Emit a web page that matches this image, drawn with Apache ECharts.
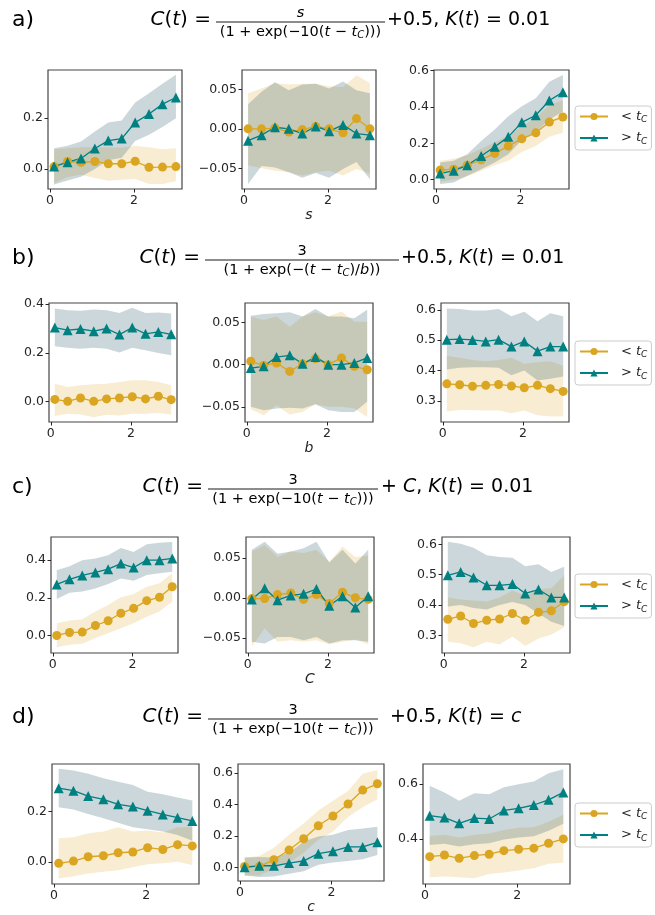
<!DOCTYPE html>
<html>
<head>
<meta charset="utf-8">
<script src="https://cdn.jsdelivr.net/npm/echarts@6/dist/echarts.min.js"></script>
<style>
  html, body { margin: 0; padding: 0; background: #ffffff; }
  #chart { width: 655px; height: 915px; }
</style>
</head>
<body>
<div id="chart"></div>
<script>
// Shared x positions of the sweep (parameter value on each panel's x axis)
const X = [0.1, 0.42, 0.74, 1.07, 1.39, 1.71, 2.03, 2.36, 2.68, 3.0];
const xTicks = [0, 2];

// ---- row a ----
const a1LtMean = [0.010, 0.030, 0.027, 0.030, 0.021, 0.021, 0.031, 0.007, 0.008, 0.010];
const a1LtLow  = [-0.055, -0.031, -0.022, -0.035, -0.046, -0.042, -0.039, -0.058, -0.058, -0.048];
const a1LtHigh = [0.078, 0.082, 0.086, 0.086, 0.086, 0.085, 0.092, 0.086, 0.078, 0.082];
const a1GtMean = [0.010, 0.027, 0.042, 0.081, 0.112, 0.120, 0.183, 0.216, 0.255, 0.281];
const a1GtLow  = [-0.060, -0.045, -0.030, 0.000, 0.035, 0.045, 0.110, 0.135, 0.165, 0.200];
const a1GtHigh = [0.082, 0.092, 0.108, 0.148, 0.183, 0.191, 0.261, 0.298, 0.335, 0.370];
const a1Ticks = [0.0, 0.2];

const a2LtMean = [0.000, 0.000, 0.001, -0.004, -0.001, 0.003, 0.000, -0.005, 0.013, 0.000];
const a2LtLow  = [-0.046, -0.050, -0.053, -0.055, -0.059, -0.055, -0.053, -0.059, -0.051, -0.057];
const a2LtHigh = [0.045, 0.051, 0.058, 0.056, 0.057, 0.057, 0.054, 0.053, 0.068, 0.058];
const a2GtMean = [-0.015, -0.008, 0.002, 0.000, -0.006, 0.003, -0.003, 0.005, -0.006, -0.008];
const a2GtLow  = [-0.070, -0.047, -0.049, -0.055, -0.062, -0.056, -0.062, -0.051, -0.042, -0.064];
const a2GtHigh = [0.031, 0.047, 0.059, 0.049, 0.056, 0.057, 0.051, 0.060, 0.049, 0.045];
const a2Ticks = [-0.05, 0.0, 0.05];

const a3LtMean = [0.053, 0.058, 0.080, 0.109, 0.145, 0.185, 0.225, 0.258, 0.318, 0.345];
const a3LtLow  = [-0.011, 0.000, 0.018, 0.049, 0.080, 0.104, 0.153, 0.185, 0.236, 0.258];
const a3LtHigh = [0.104, 0.116, 0.135, 0.171, 0.207, 0.244, 0.295, 0.340, 0.413, 0.436];
const a3GtMean = [0.035, 0.049, 0.080, 0.131, 0.182, 0.236, 0.316, 0.355, 0.436, 0.482];
const a3GtLow  = [-0.024, -0.015, 0.022, 0.058, 0.095, 0.140, 0.218, 0.262, 0.331, 0.376];
const a3GtHigh = [0.095, 0.104, 0.140, 0.213, 0.276, 0.349, 0.404, 0.449, 0.540, 0.576];
const a3Ticks = [0.0, 0.2, 0.4, 0.6];

// ---- row b ----
const b1LtMean = [0.008, 0.000, 0.014, 0.000, 0.010, 0.014, 0.019, 0.010, 0.021, 0.007];
const b1LtLow  = [-0.060, -0.051, -0.054, -0.065, -0.055, -0.058, -0.051, -0.051, -0.048, -0.054];
const b1LtHigh = [0.073, 0.059, 0.066, 0.070, 0.073, 0.080, 0.087, 0.087, 0.080, 0.066];
const b1GtMean = [0.304, 0.293, 0.298, 0.289, 0.300, 0.275, 0.304, 0.278, 0.286, 0.276];
const b1GtLow  = [0.227, 0.221, 0.217, 0.221, 0.217, 0.201, 0.221, 0.210, 0.199, 0.190];
const b1GtHigh = [0.382, 0.375, 0.373, 0.378, 0.375, 0.364, 0.385, 0.364, 0.366, 0.362];
const b1Ticks = [0.0, 0.2, 0.4];

const b2LtMean = [0.004, -0.001, 0.002, -0.008, 0.001, 0.007, 0.000, 0.008, -0.002, -0.006];
const b2LtLow  = [-0.053, -0.060, -0.048, -0.059, -0.056, -0.047, -0.050, -0.050, -0.052, -0.062];
const b2LtHigh = [0.057, 0.053, 0.057, 0.045, 0.057, 0.062, 0.057, 0.063, 0.051, 0.051];
const b2GtMean = [-0.004, -0.002, 0.009, 0.011, 0.001, 0.009, 0.000, 0.000, 0.002, 0.008];
const b2GtLow  = [-0.050, -0.054, -0.052, -0.051, -0.052, -0.047, -0.054, -0.056, -0.056, -0.044];
const b2GtHigh = [0.058, 0.060, 0.061, 0.062, 0.057, 0.066, 0.057, 0.057, 0.055, 0.065];
const b2Ticks = [-0.05, 0.0, 0.05];

const b3LtMean = [0.356, 0.353, 0.348, 0.351, 0.354, 0.349, 0.343, 0.351, 0.340, 0.331];
const b3LtLow  = [0.265, 0.270, 0.270, 0.268, 0.268, 0.259, 0.268, 0.252, 0.248, 0.248];
const b3LtHigh = [0.449, 0.442, 0.435, 0.431, 0.435, 0.442, 0.422, 0.427, 0.431, 0.416];
const b3GtMean = [0.502, 0.504, 0.501, 0.496, 0.502, 0.479, 0.496, 0.464, 0.479, 0.479];
const b3GtLow  = [0.403, 0.409, 0.411, 0.411, 0.409, 0.384, 0.400, 0.367, 0.373, 0.380];
const b3GtHigh = [0.605, 0.603, 0.598, 0.598, 0.603, 0.579, 0.594, 0.563, 0.589, 0.579];
const b3Ticks = [0.3, 0.4, 0.5, 0.6];

// ---- row c ----
const c1LtMean = [0.000, 0.016, 0.018, 0.053, 0.078, 0.118, 0.144, 0.185, 0.203, 0.259];
const c1LtLow  = [-0.062, -0.049, -0.044, -0.014, 0.012, 0.039, 0.065, 0.100, 0.127, 0.180];
const c1LtHigh = [0.065, 0.079, 0.086, 0.127, 0.162, 0.203, 0.220, 0.259, 0.277, 0.330];
const c1GtMean = [0.271, 0.298, 0.319, 0.335, 0.352, 0.382, 0.361, 0.400, 0.400, 0.409];
const c1GtLow  = [0.194, 0.227, 0.233, 0.250, 0.273, 0.303, 0.291, 0.321, 0.330, 0.338];
const c1GtHigh = [0.347, 0.368, 0.400, 0.409, 0.426, 0.465, 0.444, 0.485, 0.492, 0.497];
const c1Ticks = [0.0, 0.2, 0.4];

const c2LtMean = [-0.001, -0.001, 0.004, 0.006, -0.002, 0.004, -0.007, 0.007, 0.000, -0.002];
const c2LtLow  = [-0.061, -0.038, -0.055, -0.053, -0.055, -0.053, -0.058, -0.055, -0.052, -0.058];
const c2LtHigh = [0.058, 0.066, 0.051, 0.058, 0.056, 0.060, 0.045, 0.064, 0.051, 0.053];
const c2GtMean = [-0.002, 0.012, -0.003, 0.003, 0.005, 0.011, -0.010, 0.002, -0.012, 0.002];
const c2GtLow  = [-0.055, -0.057, -0.049, -0.049, -0.053, -0.049, -0.057, -0.053, -0.053, -0.055];
const c2GtHigh = [0.060, 0.070, 0.055, 0.058, 0.062, 0.070, 0.044, 0.060, 0.043, 0.060];
const c2Ticks = [-0.05, 0.0, 0.05];

const c3LtMean = [0.353, 0.364, 0.339, 0.350, 0.354, 0.372, 0.350, 0.376, 0.381, 0.411];
const c3LtLow  = [0.279, 0.274, 0.261, 0.279, 0.270, 0.296, 0.265, 0.290, 0.303, 0.326];
const c3LtHigh = [0.425, 0.418, 0.415, 0.412, 0.425, 0.448, 0.430, 0.452, 0.455, 0.497];
const c3GtMean = [0.498, 0.509, 0.491, 0.465, 0.465, 0.469, 0.438, 0.451, 0.425, 0.425];
const c3GtLow  = [0.395, 0.400, 0.390, 0.385, 0.400, 0.410, 0.400, 0.372, 0.345, 0.331];
const c3GtHigh = [0.608, 0.602, 0.589, 0.564, 0.558, 0.556, 0.528, 0.534, 0.509, 0.526];
const c3Ticks = [0.3, 0.4, 0.5, 0.6];

// ---- row d ----
const d1LtMean = [-0.005, 0.004, 0.021, 0.025, 0.037, 0.040, 0.057, 0.050, 0.069, 0.064];
const d1LtLow  = [-0.065, -0.056, -0.045, -0.038, -0.032, -0.021, -0.009, -0.005, 0.001, -0.012];
const d1LtHigh = [0.094, 0.098, 0.114, 0.121, 0.138, 0.121, 0.125, 0.117, 0.138, 0.138];
const d1GtMean = [0.293, 0.283, 0.262, 0.249, 0.229, 0.220, 0.204, 0.189, 0.176, 0.163];
const d1GtLow  = [0.217, 0.209, 0.191, 0.174, 0.156, 0.138, 0.130, 0.121, 0.107, 0.085];
const d1GtHigh = [0.370, 0.363, 0.350, 0.332, 0.319, 0.306, 0.279, 0.269, 0.256, 0.244];
const d1Ticks = [0.0, 0.2];

const d2LtMean = [0.006, 0.006, 0.048, 0.110, 0.182, 0.265, 0.327, 0.403, 0.492, 0.532];
const d2LtLow  = [-0.052, -0.052, -0.010, 0.031, 0.093, 0.176, 0.228, 0.321, 0.383, 0.434];
const d2LtHigh = [0.062, 0.072, 0.124, 0.207, 0.279, 0.362, 0.424, 0.486, 0.596, 0.620];
const d2GtMean = [0.000, 0.010, 0.010, 0.027, 0.041, 0.087, 0.103, 0.130, 0.130, 0.159];
const d2GtLow  = [-0.052, -0.062, -0.058, -0.041, -0.025, 0.017, 0.031, 0.041, 0.052, 0.079];
const d2GtHigh = [0.062, 0.066, 0.062, 0.093, 0.165, 0.196, 0.207, 0.238, 0.248, 0.259];
const d2Ticks = [0.0, 0.2, 0.4, 0.6];

const d3LtMean = [0.335, 0.341, 0.329, 0.339, 0.344, 0.357, 0.362, 0.366, 0.384, 0.400];
const d3LtLow  = [0.260, 0.262, 0.260, 0.256, 0.272, 0.277, 0.284, 0.293, 0.309, 0.313];
const d3LtHigh = [0.411, 0.415, 0.405, 0.415, 0.420, 0.433, 0.441, 0.443, 0.463, 0.488];
const d3GtMean = [0.485, 0.478, 0.457, 0.476, 0.473, 0.504, 0.512, 0.524, 0.543, 0.570];
const d3GtLow  = [0.378, 0.382, 0.372, 0.380, 0.384, 0.398, 0.405, 0.410, 0.430, 0.455];
const d3GtHigh = [0.594, 0.570, 0.540, 0.567, 0.563, 0.589, 0.600, 0.610, 0.640, 0.655];
const d3Ticks = [0.4, 0.6];

const xNames = ['s', 'b', 'C', 'c'];

// Panel layout: [left, top, width, height], y limits, label decimals
const panels = [
  { box: [48, 70, 134, 119],  y: [-0.078, 0.389], dec: 1, ticks: a1Ticks, s: [a1LtMean, a1LtLow, a1LtHigh, a1GtMean, a1GtLow, a1GtHigh] },
  { box: [242, 70, 134, 119], y: [-0.0762, 0.0745], dec: 2, ticks: a2Ticks, s: [a2LtMean, a2LtLow, a2LtHigh, a2GtMean, a2GtLow, a2GtHigh], xName: 0 },
  { box: [434, 70, 135, 119], y: [-0.051, 0.604], dec: 1, ticks: a3Ticks, s: [a3LtMean, a3LtLow, a3LtHigh, a3GtMean, a3GtLow, a3GtHigh] },
  { box: [49, 303, 128, 119],  y: [-0.085, 0.405], dec: 1, ticks: b1Ticks, s: [b1LtMean, b1LtLow, b1LtHigh, b1GtMean, b1GtLow, b1GtHigh] },
  { box: [245, 303, 128, 119], y: [-0.068, 0.0731], dec: 2, ticks: b2Ticks, s: [b2LtMean, b2LtLow, b2LtHigh, b2GtMean, b2GtLow, b2GtHigh], xName: 1 },
  { box: [441, 303, 128, 119], y: [0.230, 0.623], dec: 1, ticks: b3Ticks, s: [b3LtMean, b3LtLow, b3LtHigh, b3GtMean, b3GtLow, b3GtHigh] },
  { box: [51, 537, 127, 116],  y: [-0.093, 0.523], dec: 1, ticks: c1Ticks, s: [c1LtMean, c1LtLow, c1LtHigh, c1GtMean, c1GtLow, c1GtHigh] },
  { box: [246, 537, 128, 116], y: [-0.069, 0.076], dec: 2, ticks: c2Ticks, s: [c2LtMean, c2LtLow, c2LtHigh, c2GtMean, c2GtLow, c2GtHigh], xName: 2 },
  { box: [442, 537, 128, 116], y: [0.242, 0.624], dec: 1, ticks: c3Ticks, s: [c3LtMean, c3LtLow, c3LtHigh, c3GtMean, c3GtLow, c3GtHigh] },
  { box: [52, 764, 147, 120],  y: [-0.087, 0.389], dec: 1, ticks: d1Ticks, s: [d1LtMean, d1LtLow, d1LtHigh, d1GtMean, d1GtLow, d1GtHigh] },
  { box: [238, 764, 146, 120], y: [-0.087, 0.658], dec: 1, ticks: d2Ticks, s: [d2LtMean, d2LtLow, d2LtHigh, d2GtMean, d2GtLow, d2GtHigh], xName: 3 },
  { box: [423, 764, 147, 120], y: [0.235, 0.674], dec: 1, ticks: d3Ticks, s: [d3LtMean, d3LtLow, d3LtHigh, d3GtMean, d3GtLow, d3GtHigh] }
];

const FONT = 'DejaVu Sans';
const ORANGE = '#DAA520';
const TEAL = '#008080';
const ORANGE_BAND = 'rgba(218,165,32,0.2)';
const TEAL_BAND = 'rgba(47,97,107,0.25)';
const INK = '#262626';

function fmt(v, dec) {
  const s = Math.abs(v).toFixed(dec);
  return (v < -1e-9 ? '\u2212' : '') + s;
}

function bandSeries(i, lo, hi, color) {
  return {
    type: 'custom', xAxisIndex: i, yAxisIndex: i, silent: true, z: 1,
    data: X.map((x, k) => [x, lo[k], hi[k]]),
    encode: { x: 0, y: [1, 2] },
    renderItem: function (params, api) {
      if (params.dataIndex !== 0) return null;
      const top = [], bot = [];
      for (let k = 0; k < X.length; k++) {
        top.push(api.coord([X[k], hi[k]]));
        bot.push(api.coord([X[k], lo[k]]));
      }
      return { type: 'polygon', shape: { points: top.concat(bot.reverse()) }, style: { fill: color } };
    }
  };
}

function lineSeries(i, name, vals, color, symbol, size) {
  return {
    type: 'line', name: name, xAxisIndex: i, yAxisIndex: i, z: 3,
    data: X.map((x, k) => [x, vals[k]]),
    symbol: symbol, symbolSize: size, showSymbol: true,
    lineStyle: { color: color, width: 1.3 },
    itemStyle: { color: color, borderWidth: 0 },
    emphasis: { disabled: true }, animation: false
  };
}

const grids = [], xAxes = [], yAxes = [], series = [];
panels.forEach((p, i) => {
  grids.push({ left: p.box[0], top: p.box[1], width: p.box[2], height: p.box[3],
    show: true, borderColor: '#444', borderWidth: 1.2, backgroundColor: 'transparent', containLabel: false });
  xAxes.push({
    type: 'value', gridIndex: i, min: -0.045, max: 3.145, position: 'bottom',
    axisLine: { show: false, onZero: false }, splitLine: { show: false },
    axisTick: { show: true, length: 3.5, lineStyle: { color: INK, width: 1 }, customValues: xTicks },
    axisLabel: { fontFamily: FONT, fontSize: 12.5, color: INK, margin: 5, customValues: xTicks, formatter: v => String(v) },
    name: p.xName !== undefined ? xNames[p.xName] : '',
    nameLocation: 'middle', nameGap: 19,
    nameTextStyle: { fontFamily: FONT, fontSize: 14, fontStyle: 'italic', color: INK }
  });
  yAxes.push({
    type: 'value', gridIndex: i, min: p.y[0], max: p.y[1], position: 'left',
    axisLine: { show: false, onZero: false }, splitLine: { show: false },
    axisTick: { show: true, length: 3.5, lineStyle: { color: INK, width: 1 }, customValues: p.ticks },
    axisLabel: { fontFamily: FONT, fontSize: 12.5, color: INK, margin: 5, customValues: p.ticks, formatter: v => fmt(v, p.dec) }
  });
  const [ltM, ltL, ltH, gtM, gtL, gtH] = p.s;
  series.push(bandSeries(i, ltL, ltH, ORANGE_BAND));
  series.push(bandSeries(i, gtL, gtH, TEAL_BAND));
  series.push(lineSeries(i, 'lt', ltM, ORANGE, 'circle', 9));
  series.push(lineSeries(i, 'gt', gtM, TEAL, 'triangle', 10));
});

// Legends to the right of each row
const legendTops = [106, 341, 574, 803];
const legends = legendTops.map(t => ({
  data: ['lt', 'gt'], orient: 'vertical', left: 575, top: t,
  itemWidth: 28, itemHeight: 9, itemGap: 7,
  padding: [4, 4, 4, 4], borderColor: '#cccccc', borderWidth: 1, borderRadius: 3,
  backgroundColor: '#ffffff', selectedMode: false,
  formatter: n => (n === 'lt' ? '{g|<} {i|t}{s|C}' : '{g|>} {i|t}{s|C}'),
  textStyle: {
    fontFamily: FONT, fontSize: 13, color: INK,
    rich: {
      g: { fontFamily: FONT, fontSize: 13, color: INK, padding: [0, 0, 0, 8] },
      i: { fontFamily: FONT, fontSize: 13, fontStyle: 'italic', color: INK },
      s: { fontFamily: FONT, fontSize: 9, fontStyle: 'italic', color: INK, padding: [7, 0, 0, 0] }
    }
  }
}));

// Row headings: panel letter and the formula with a stacked fraction
const richMath = (size) => ({
  i: { fontFamily: FONT, fontSize: size, fontStyle: 'italic', color: '#000' },
  s: { fontFamily: FONT, fontSize: Math.round(size * 0.7), fontStyle: 'italic', color: '#000', padding: [Math.round(size * 0.5), 0, 0, 0] }
});
function txt(x, y, text, size, align) {
  return { type: 'text', x: x, y: y, silent: true,
    style: { text: text, fontFamily: FONT, fontSize: size, fill: '#000', align: align || 'left', verticalAlign: 'middle', rich: richMath(size) } };
}
const headings = [
  { y: 20, tag: 'a)', bar: [216, 385], num: '{i|s}', den: '(1 + exp(\u221210({i|t} \u2212 {i|t}{s|C})))', tailX: 387, tail: '+0.5, {i|K}({i|t}) = 0.01' },
  { y: 258, tag: 'b)', bar: [205, 399], num: '3', den: '(1 + exp(\u2212({i|t} \u2212 {i|t}{s|C})/{i|b}))', tailX: 401, tail: '+0.5, {i|K}({i|t}) = 0.01' },
  { y: 487, tag: 'c)', bar: [208, 378], num: '3', den: '(1 + exp(\u221210({i|t} \u2212 {i|t}{s|C})))', tailX: 381, tail: '+ {i|C}, {i|K}({i|t}) = 0.01' },
  { y: 717, tag: 'd)', bar: [208, 378], num: '3', den: '(1 + exp(\u221210({i|t} \u2212 {i|t}{s|C})))', tailX: 384, tail: ' +0.5, {i|K}({i|t}) = {i|c}' }
];
const graphics = [];
headings.forEach(h => {
  graphics.push(txt(12, h.y, h.tag, 22));
  graphics.push(txt(h.bar[0] - 5, h.y, '{i|C}({i|t}) =', 20, 'right'));
  const cx = (h.bar[0] + h.bar[1]) / 2;
  graphics.push({ type: 'line', silent: true, shape: { x1: h.bar[0], y1: h.y + 2, x2: h.bar[1], y2: h.y + 2 }, style: { stroke: '#000', lineWidth: 0.9 } });
  graphics.push(txt(cx, h.y - 7, h.num, 14.5, 'center'));
  graphics.push(txt(cx, h.y + 12, h.den, 14.5, 'center'));
  graphics.push(txt(h.tailX, h.y, h.tail, 19));
});

const chart = echarts.init(document.getElementById('chart'), null, { renderer: 'canvas' });
chart.setOption({
  animation: false,
  backgroundColor: '#ffffff',
  grid: grids, xAxis: xAxes, yAxis: yAxes,
  legend: legends,
  series: series,
  graphic: graphics
});
</script>
</body>
</html>
